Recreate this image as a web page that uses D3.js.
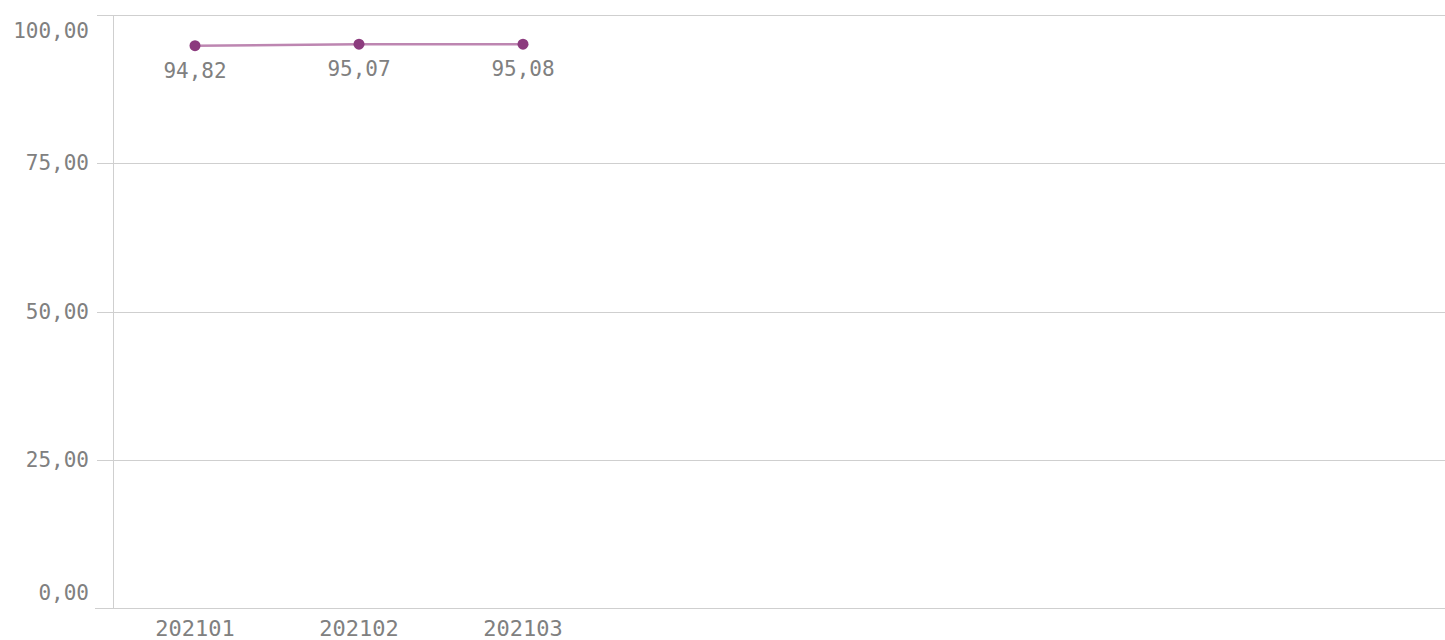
<!DOCTYPE html>
<html>
<head>
<meta charset="utf-8">
<script src="https://cdn.jsdelivr.net/npm/d3@7"></script>
<style>
    body { margin: 0; background: #fff; }
    svg { display: block; }
    .tick text, .label { font-family: "DejaVu Sans Mono", monospace; fill: #808080; }
</style>
</head>
<body>
<svg id="chart" width="1445" height="640"></svg>
<script>
// data
var periods = ["202101", "202102", "202103"];
var values = [94.82, 95.07, 95.08];
var yTicks = [0, 25, 50, 75, 100];

function drawChart() {
    var svg = d3.select("#chart"),
        margin = { top: 15, right: 0, bottom: 32, left: 113 },
        width = +svg.attr("width") - margin.left - margin.right,
        height = +svg.attr("height") - margin.top - margin.bottom,
        step = 164;

    var x = d3.scaleBand().domain(periods).range([0, step * periods.length]),
        y = d3.scaleLinear().domain([0, 100]).range([height, 0]);

    var fmt = v => d3.format(".2f")(v).replace(".", ",");

    var g = svg.append("g")
        .attr("transform", "translate(" + margin.left + "," + margin.top + ")");

    // y grid + labels
    var yAxis = g.append("g")
        .call(d3.axisLeft(y).tickValues(yTicks).tickSize(-width - 16).tickFormat(fmt).tickPadding(8))
        .attr("transform", "translate(-16,0)");
    yAxis.select(".domain").remove();
    yAxis.selectAll(".tick line").attr("stroke", "#cfcfcf").attr("shape-rendering", "crispEdges");
    yAxis.selectAll(".tick text")
        .style("font-size", "21px")
        .attr("dy", d => d === 100 ? "1.05em" : d === 0 ? "-0.4em" : "0.32em");

    // left axis line
    g.append("line")
        .attr("x1", 0).attr("x2", 0)
        .attr("y1", y(100)).attr("y2", y(0))
        .attr("stroke", "#cfcfcf")
        .attr("shape-rendering", "crispEdges");

    // bottom axis line + labels
    var xAxis = g.append("g")
        .attr("transform", "translate(0," + height + ")")
        .call(d3.axisBottom(x).tickSize(0).tickPadding(12));
    xAxis.select(".domain").remove();
    xAxis.selectAll(".tick text").style("font-size", "22px");
    g.append("line")
        .attr("x1", -18).attr("x2", width)
        .attr("y1", height).attr("y2", height)
        .attr("stroke", "#cfcfcf")
        .attr("shape-rendering", "crispEdges");

    var line = d3.line()
        .x((d, i) => x(periods[i]) + x.bandwidth() / 2)
        .y(d => y(d));

    g.append("path")
        .datum(values)
        .attr("fill", "none")
        .attr("stroke", "#bd86b1")
        .attr("stroke-width", 2.5)
        .attr("d", line);

    g.selectAll(".dot")
        .data(values)
        .enter()
        .append("circle")
        .attr("class", "dot")
        .attr("cx", (d, i) => x(periods[i]) + x.bandwidth() / 2)
        .attr("cy", d => y(d))
        .attr("r", 5.5)
        .attr("fill", "#8c3b7e");

    g.selectAll(".label")
        .data(values)
        .enter()
        .append("text")
        .attr("class", "label")
        .attr("x", (d, i) => x(periods[i]) + x.bandwidth() / 2)
        .attr("y", d => y(d) + 32)
        .attr("text-anchor", "middle")
        .style("font-size", "21px")
        .text(fmt);
}

drawChart();
</script>
</body>
</html>
